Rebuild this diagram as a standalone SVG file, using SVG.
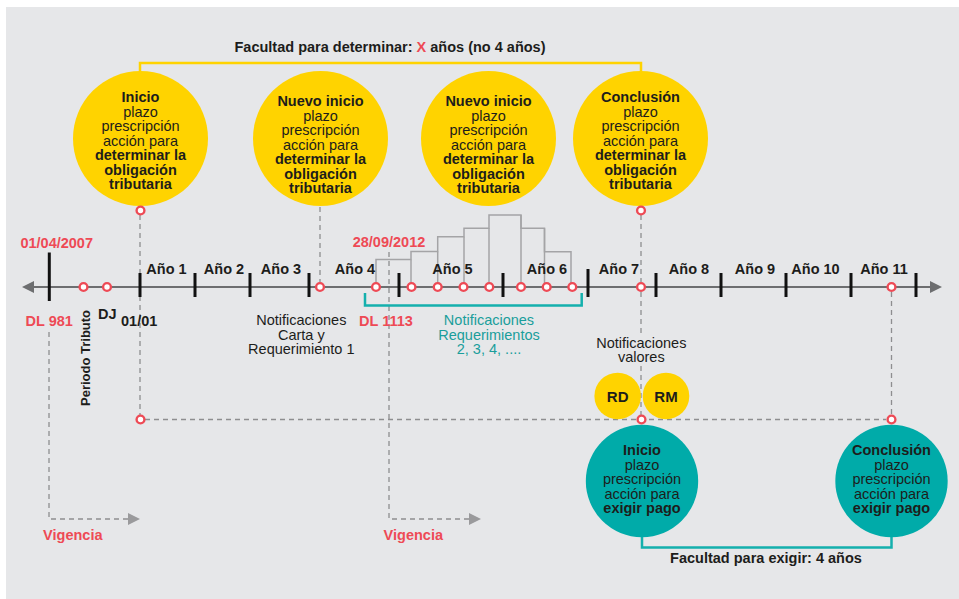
<svg xmlns="http://www.w3.org/2000/svg" width="959" height="599" viewBox="0 0 959 599">
  <defs>
    <style>
      text { font-family: "Liberation Sans", Arial, sans-serif; font-size: 14.5px; fill: #1d1d1b; }
      .b { font-weight: bold; }
      .mid { text-anchor: middle; }
      .red { fill: #ee4a55; font-weight: bold; }
      .teal-t { fill: #1a9e9b; }
      .yc { fill: #ffd300; }
      .tc { fill: #00aba9; }
      .mark { fill: #ffffff; stroke: #ee4a55; stroke-width: 2.4; }
      .dash { fill: none; stroke: #8e8e90; stroke-width: 1.3; stroke-dasharray: 5 4; }
      .tick { stroke: #111111; stroke-width: 3; }
      .step { fill: none; stroke: #a4a4a6; stroke-width: 1.5; }
      .ybr { fill: none; stroke: #ffd300; stroke-width: 2.5; }
      .tbr { fill: none; stroke: #14b0ad; stroke-width: 2.5; }
    </style>
  </defs>

  <!-- background panel -->
  <rect x="6" y="7" width="953" height="592" fill="#e6e7e9"/>

  <!-- connectors, brackets, timeline -->
  <g id="connectors">
    <!-- yellow bracket over the determination period -->
    <polyline class="ybr" points="140,72 140,63 641,63 641,72"/>

    <!-- dashed guides -->
    <line class="dash" x1="140" y1="215" x2="140" y2="415"/>
    <line class="dash" x1="320" y1="207" x2="320" y2="282"/>
    <line class="dash" x1="641" y1="215" x2="641" y2="282"/>
    <line class="dash" x1="641" y1="292" x2="641" y2="333"/>
    <line class="dash" x1="641" y1="366" x2="641" y2="415"/>
    <line class="dash" x1="891.5" y1="292" x2="891.5" y2="415"/>
    <line class="dash" x1="145" y1="419.5" x2="886" y2="419.5"/>
    <polyline class="dash" points="49,332 49,519 128,519"/>
    <polygon points="128,513 140,519 128,525" fill="#9a9a9c"/>
    <polyline class="dash" points="389,252 389,519 469,519"/>
    <polygon points="469,513 481,519 469,525" fill="#9a9a9c"/>

    <!-- stepped outline over the notices -->
    <polyline class="step" points="376,283 376,259.5 411,259.5 411,251.5 437.7,251.5 437.7,236.7 464,236.7 464,228.3 489,228.3 489,215 521,215 521,228.3 544.5,228.3 544.5,251.7 571,251.7 571,283"/>
    <line class="step" x1="411" y1="259.5" x2="411" y2="283"/>
    <line class="step" x1="437.7" y1="251.5" x2="437.7" y2="283"/>
    <line class="step" x1="464" y1="236.7" x2="464" y2="283"/>
    <line class="step" x1="489" y1="228.3" x2="489" y2="283"/>
    <line class="step" x1="521" y1="215" x2="521" y2="283"/>
    <line class="step" x1="544.5" y1="228.3" x2="544.5" y2="283"/>

    <!-- main time axis -->
    <line x1="32" y1="287" x2="932" y2="287" stroke="#6d6e70" stroke-width="1.8"/>
    <polygon points="22,287 34,281 34,293" fill="#6d6e70"/>
    <polygon points="942,287 930,281 930,293" fill="#6d6e70"/>

    <!-- year ticks -->
    <line class="tick" x1="49.3" y1="252.5" x2="49.3" y2="301"/>
    <line class="tick" x1="140" y1="273" x2="140" y2="297"/>
    <line class="tick" x1="195" y1="273" x2="195" y2="297"/>
    <line class="tick" x1="250" y1="273" x2="250" y2="297"/>
    <line class="tick" x1="309" y1="273" x2="309" y2="297"/>
    <line class="tick" x1="399" y1="273" x2="399" y2="297"/>
    <line class="tick" x1="503" y1="273" x2="503" y2="297"/>
    <line class="tick" x1="588" y1="269" x2="588" y2="297"/>
    <line class="tick" x1="656" y1="273" x2="656" y2="297"/>
    <line class="tick" x1="721" y1="273" x2="721" y2="297"/>
    <line class="tick" x1="786" y1="273" x2="786" y2="297"/>
    <line class="tick" x1="851" y1="273" x2="851" y2="297"/>
    <line class="tick" x1="916" y1="273" x2="916" y2="297"/>

    <!-- teal bracket under the requirement notices -->
    <polyline class="tbr" points="365,293 365,305.5 581.7,305.5 581.7,293"/>
    <!-- teal bracket under the collection period -->
    <polyline class="tbr" points="642,536 642,547.5 891.5,547.5 891.5,536"/>
  </g>

  <!-- header -->
  <g id="title">
    <text class="b mid" x="390" y="52">Facultad para determinar: <tspan fill="#ee4a55">X</tspan> años (no 4 años)</text>
  </g>

  <!-- yellow nodes -->
  <g id="inicio-determinar">
    <circle class="yc" cx="140.5" cy="138.5" r="67.5"/>
    <text class="mid" x="140.5" y="102"><tspan class="b">Inicio</tspan><tspan x="140.5" dy="14.5">plazo</tspan><tspan x="140.5" dy="14.5">prescripción</tspan><tspan x="140.5" dy="14.5">acción para</tspan><tspan class="b" x="140.5" dy="14.5">determinar la</tspan><tspan class="b" x="140.5" dy="14.5">obligación</tspan><tspan class="b" x="140.5" dy="14.5">tributaria</tspan></text>
  </g>
  <g id="nuevo-inicio-1">
    <circle class="yc" cx="320.5" cy="138.5" r="67.5"/>
    <text class="mid" x="320.5" y="106"><tspan class="b">Nuevo inicio</tspan><tspan x="320.5" dy="14.5">plazo</tspan><tspan x="320.5" dy="14.5">prescripción</tspan><tspan x="320.5" dy="14.5">acción para</tspan><tspan class="b" x="320.5" dy="14.5">determinar la</tspan><tspan class="b" x="320.5" dy="14.5">obligación</tspan><tspan class="b" x="320.5" dy="14.5">tributaria</tspan></text>
  </g>
  <g id="nuevo-inicio-2">
    <circle class="yc" cx="488.5" cy="138.5" r="67.5"/>
    <text class="mid" x="488.5" y="106"><tspan class="b">Nuevo inicio</tspan><tspan x="488.5" dy="14.5">plazo</tspan><tspan x="488.5" dy="14.5">prescripción</tspan><tspan x="488.5" dy="14.5">acción para</tspan><tspan class="b" x="488.5" dy="14.5">determinar la</tspan><tspan class="b" x="488.5" dy="14.5">obligación</tspan><tspan class="b" x="488.5" dy="14.5">tributaria</tspan></text>
  </g>
  <g id="conclusion-determinar">
    <circle class="yc" cx="640.5" cy="138.5" r="67.5"/>
    <text class="mid" x="640.5" y="102"><tspan class="b">Conclusión</tspan><tspan x="640.5" dy="14.5">plazo</tspan><tspan x="640.5" dy="14.5">prescripción</tspan><tspan x="640.5" dy="14.5">acción para</tspan><tspan class="b" x="640.5" dy="14.5">determinar la</tspan><tspan class="b" x="640.5" dy="14.5">obligación</tspan><tspan class="b" x="640.5" dy="14.5">tributaria</tspan></text>
  </g>

  <!-- value notices -->
  <g id="rd">
    <circle class="yc" cx="617.7" cy="396" r="23.3"/>
    <text class="b mid" x="617.7" y="401.5" style="font-size:15px">RD</text>
  </g>
  <g id="rm">
    <circle class="yc" cx="666" cy="396" r="23.3"/>
    <text class="b mid" x="666" y="401.5" style="font-size:15px">RM</text>
  </g>

  <!-- teal nodes -->
  <g id="inicio-exigir">
    <circle class="tc" cx="642" cy="481" r="56.2"/>
    <text class="mid" x="642" y="455"><tspan class="b">Inicio</tspan><tspan x="642" dy="14.5">plazo</tspan><tspan x="642" dy="14.5">prescripción</tspan><tspan x="642" dy="14.5">acción para</tspan><tspan class="b" x="642" dy="14.5">exigir pago</tspan></text>
  </g>
  <g id="conclusion-exigir">
    <circle class="tc" cx="891.5" cy="481" r="56.2"/>
    <text class="mid" x="891.5" y="455"><tspan class="b">Conclusión</tspan><tspan x="891.5" dy="14.5">plazo</tspan><tspan x="891.5" dy="14.5">prescripción</tspan><tspan x="891.5" dy="14.5">acción para</tspan><tspan class="b" x="891.5" dy="14.5">exigir pago</tspan></text>
  </g>

  <!-- event markers -->
  <g id="markers">
    <circle class="mark" cx="140.5" cy="210.5" r="3.9"/>
    <circle class="mark" cx="641" cy="210.5" r="3.9"/>
    <circle class="mark" cx="83.5" cy="287" r="3.9"/>
    <circle class="mark" cx="107" cy="287" r="3.9"/>
    <circle class="mark" cx="320" cy="287" r="3.9"/>
    <circle class="mark" cx="376" cy="287" r="3.9"/>
    <circle class="mark" cx="411.5" cy="287" r="3.9"/>
    <circle class="mark" cx="437.7" cy="287" r="3.9"/>
    <circle class="mark" cx="463.5" cy="287" r="3.9"/>
    <circle class="mark" cx="489.3" cy="287" r="3.9"/>
    <circle class="mark" cx="521" cy="287" r="3.9"/>
    <circle class="mark" cx="546.7" cy="287" r="3.9"/>
    <circle class="mark" cx="572.3" cy="287" r="3.9"/>
    <circle class="mark" cx="641" cy="287" r="3.9"/>
    <circle class="mark" cx="891.5" cy="287" r="3.9"/>
    <circle class="mark" cx="140.5" cy="419.5" r="3.9"/>
    <circle class="mark" cx="641.5" cy="419.5" r="3.9"/>
    <circle class="mark" cx="891.5" cy="419.5" r="3.9"/>
  </g>

  <!-- axis labels -->
  <g id="years">
    <text class="b mid" x="166.5" y="274">Año 1</text>
    <text class="b mid" x="224" y="274">Año 2</text>
    <text class="b mid" x="281" y="274">Año 3</text>
    <text class="b mid" x="355" y="274">Año 4</text>
    <text class="b mid" x="452.5" y="274">Año 5</text>
    <text class="b mid" x="547" y="274">Año 6</text>
    <text class="b mid" x="619" y="274">Año 7</text>
    <text class="b mid" x="689" y="274">Año 8</text>
    <text class="b mid" x="755" y="274">Año 9</text>
    <text class="b mid" x="815.5" y="274">Año 10</text>
    <text class="b mid" x="884" y="274">Año 11</text>
  </g>

  <g id="dates">
    <text class="red mid" x="56.7" y="247.5">01/04/2007</text>
    <text class="red mid" x="49.2" y="325.5">DL 981</text>
    <text class="red mid" x="389" y="247">28/09/2012</text>
    <text class="red mid" x="386" y="326">DL 1113</text>
    <text class="b mid" x="107.3" y="319">DJ</text>
    <text class="b mid" x="139.2" y="325.5">01/01</text>
    <text class="b" x="89.5" y="406" transform="rotate(-90 89.5 406)" style="font-size:13px">Periodo Tributo</text>
    <text class="red mid" x="72.8" y="539.5">Vigencia</text>
    <text class="red mid" x="413.3" y="539.5">Vigencia</text>
  </g>

  <g id="notes">
    <text class="mid" x="301.3" y="325"><tspan>Notificaciones</tspan><tspan x="301.3" dy="14.7">Carta y</tspan><tspan x="301.3" dy="14.5">Requerimiento 1</tspan></text>
    <text class="mid teal-t" x="489" y="325"><tspan>Notificaciones</tspan><tspan x="489" dy="14.5">Requerimientos</tspan><tspan x="489" dy="14.5">2, 3, 4, ....</tspan></text>
    <text class="mid" x="641.3" y="347.8"><tspan>Notificaciones</tspan><tspan x="641.3" dy="14.5">valores</tspan></text>
    <text class="b mid" x="766" y="563.3">Facultad para exigir: 4 años</text>
  </g>
</svg>
